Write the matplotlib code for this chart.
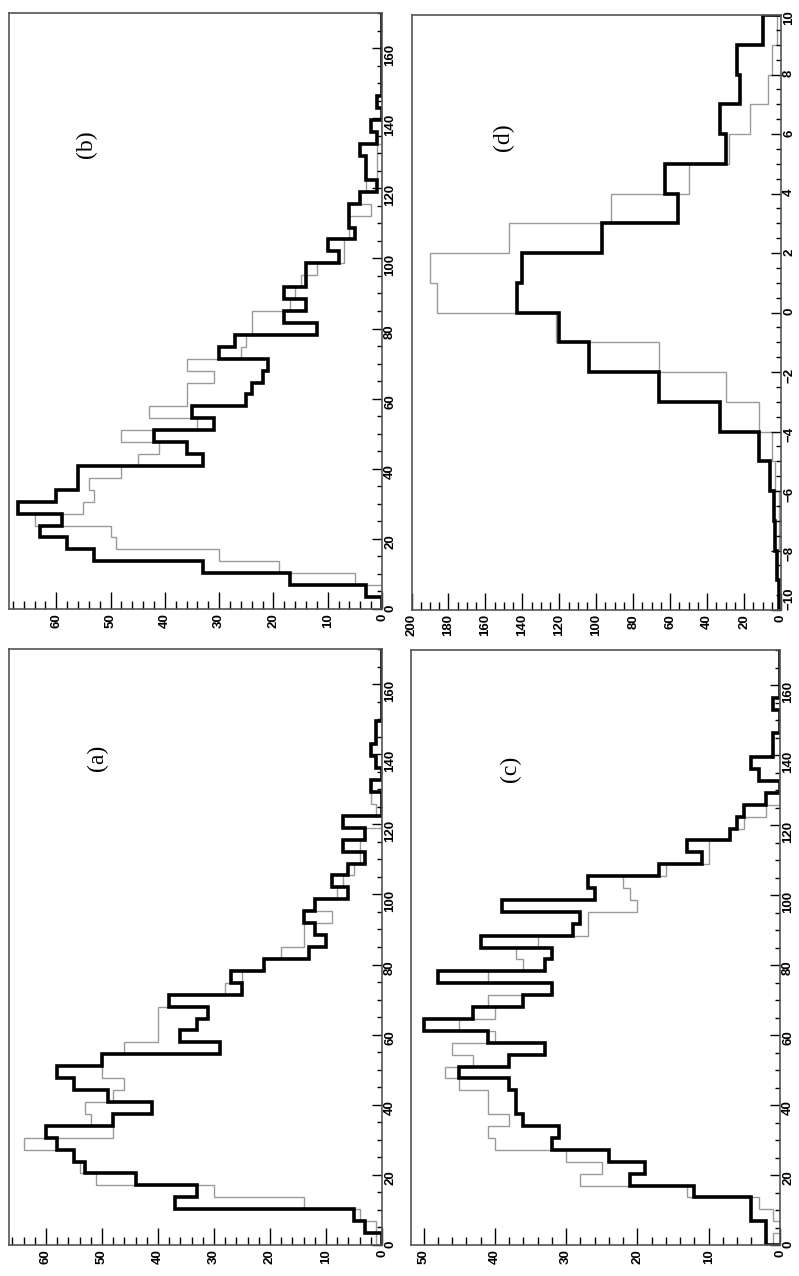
import numpy as np
import matplotlib.pyplot as plt
from matplotlib.ticker import MultipleLocator

# 50 bins of width 3.4 from 0 to 170 for panels a, b, c
edges_170 = np.linspace(0, 170, 51)
# 20 bins of width 1 from -10 to 10 for panel d
edges_10 = np.linspace(-10, 10, 21)

a_black = [0, 3, 5, 37, 33, 44, 53, 55, 58, 60, 48, 41, 49, 55, 58, 50, 29, 36, 33, 31,
           38, 25, 27, 21, 13, 10, 12, 14, 12, 6, 9, 6, 3, 7, 3, 7, 0, 0, 2, 0,
           1, 2, 1, 1, 0, 0, 0, 0, 0, 0]
a_gray = [1, 1, 4, 14, 30, 51, 54, 55, 64, 48, 52, 53, 48, 46, 50, 50, 46, 40, 40, 40,
          38, 28, 25, 21, 18, 14, 14, 9, 12, 8, 7, 5, 4, 4, 3, 0, 1, 2, 0, 0,
          0, 0, 0, 0, 0, 0, 0, 0, 0, 0]

b_black = [0, 3, 17, 33, 53, 58, 63, 59, 67, 60, 56, 56, 33, 36, 42, 31, 35, 25, 24, 22,
           21, 30, 27, 12, 18, 14, 18, 14, 14, 8, 10, 5, 6, 6, 4, 1, 3, 3, 4, 1,
           2, 0, 1, 0, 0, 0, 0, 0, 0, 0]
b_gray = [0, 0, 5, 19, 30, 49, 50, 64, 55, 53, 54, 48, 45, 41, 48, 34, 43, 36, 36, 31,
          36, 26, 25, 24, 24, 17, 16, 15, 12, 7, 7, 6, 6, 2, 4, 3, 1, 1, 1, 0,
          0, 0, 0, 0, 0, 0, 0, 0, 0, 0]

c_black = [2, 2, 4, 4, 12, 21, 19, 24, 32, 31, 36, 37, 37, 38, 45, 38, 33, 41, 50, 43,
           36, 32, 48, 33, 32, 42, 29, 28, 39, 26, 27, 17, 11, 13, 7, 6, 5, 2, 0, 3,
           4, 1, 1, 0, 0, 1, 0, 0, 0, 0]
c_gray = [1, 0, 1, 3, 13, 28, 25, 30, 40, 41, 38, 41, 41, 45, 47, 43, 46, 40, 45, 40,
          41, 32, 41, 36, 37, 34, 27, 27, 20, 21, 22, 16, 10, 10, 7, 5, 2, 0, 0, 0,
          0, 0, 0, 0, 0, 0, 0, 0, 0, 0]

d_black = [1, 2, 3, 4, 6, 12, 33, 66, 104, 120, 143, 140, 97, 56, 63, 30, 33, 22, 24, 10]
d_gray = [0, 2, 1, 1, 3, 5, 12, 30, 66, 122, 186, 190, 147, 92, 50, 28, 17, 7, 5, 2]

W, H = 799, 1276
fig = plt.figure(figsize=(W / 100, H / 100), dpi=100)
plt.rcParams['font.family'] = ['Liberation Sans', 'DejaVu Sans']


def px_axes(x0, y0, x1, y1):
    return fig.add_axes([x0 / W, 1 - y1 / H, (x1 - x0) / W, (y1 - y0) / H])


def panel(ax, edges, black, gray, cmax, cmaj, cmin, vmaj, vmin, label, lx, ly):
    ax.stairs(gray, edges, orientation='horizontal', color='#9a9a9a', lw=1.0)
    ax.stairs(black, edges, orientation='horizontal', color='black', lw=2.6)
    ax.set_xlim(cmax, 0)
    ax.set_ylim(edges[0], edges[-1])
    ax.xaxis.set_major_locator(MultipleLocator(cmaj))
    ax.xaxis.set_minor_locator(MultipleLocator(cmin))
    ax.yaxis.set_major_locator(MultipleLocator(vmaj))
    ax.yaxis.set_minor_locator(MultipleLocator(vmin))
    ax.tick_params(axis='x', which='both', direction='in', bottom=True, top=False,
                   labelrotation=90, labelsize=9.5, pad=3)
    ax.tick_params(axis='x', which='major', length=12, width=1)
    ax.tick_params(axis='x', which='minor', length=6, width=1)
    ax.tick_params(axis='y', which='both', direction='in', left=False, right=True,
                   labelleft=False, labelright=True, labelrotation=90, labelsize=9.5, pad=1.5)
    ax.tick_params(axis='y', which='major', length=7, width=1)
    ax.tick_params(axis='y', which='minor', length=3.5, width=1)
    for lab in ax.get_xticklabels() + ax.get_yticklabels():
        lab.set_fontweight('bold')
    for s in ax.spines.values():
        s.set_color('#555555')
        s.set_linewidth(1.2)
    ax.text(lx, ly, label, transform=ax.transAxes, rotation=90, ha='center', va='center',
            fontsize=17, family=['Liberation Serif', 'DejaVu Serif'])


ax_b = px_axes(8.5, 13, 382, 609)
panel(ax_b, edges_170, b_black, b_gray, 68.8, 10, 2, 20, 5, '(b)', 0.21, 0.78)

ax_d = px_axes(411.5, 15, 781, 610)
panel(ax_d, edges_10, d_black, d_gray, 200, 20, 5, 2, 0.5, '(d)', 0.25, 0.795)
# keep the -10 label clear of the 0 label at the corner
fig.canvas.draw()
for lab in ax_d.get_yticklabels():
    if lab.get_position()[1] == -10:
        lab.set_va('bottom')

ax_a = px_axes(9, 649, 382, 1245)
panel(ax_a, edges_170, a_black, a_gray, 66.6, 10, 2, 20, 5, '(a)', 0.236, 0.817)

ax_c = px_axes(410.7, 650, 780, 1245)
panel(ax_c, edges_170, c_black, c_gray, 51.8, 10, 2, 20, 5, '(c)', 0.27, 0.80)

fig.savefig('out.png', dpi=100)
